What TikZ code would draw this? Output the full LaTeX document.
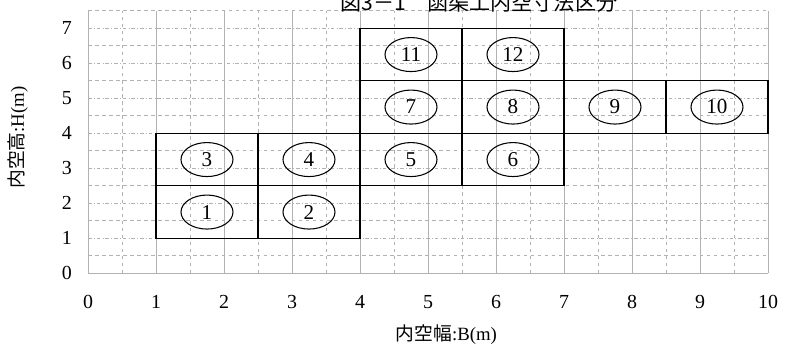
\documentclass[tikz,border=0pt]{standalone}
\usepackage{fontspec}
\setmainfont{Liberation Serif}
\newfontfamily\jpfont{Noto Sans CJK JP}
\usetikzlibrary{shapes.geometric}

\tikzset{
  gridsolid/.style={gray!60, line width=0.6pt},
  griddash/.style={gray!60, dashed, line width=0.6pt},
  griddot/.style={gray!60, dash dot, line width=0.6pt},
  area/.style={black, line width=1pt},
  num/.style={ellipse, draw, line width=0.9pt, minimum width=1.56cm, minimum height=1.02cm, inner sep=0pt, font=\fontsize{18}{20}\selectfont},
  tick/.style={font=\fontsize{17}{20}\selectfont},
  axlabel/.style={font=\fontsize{16}{18}\selectfont}
}

\begin{document}
\begin{tikzpicture}[x=2.04cm, y=1.05cm]
\useasboundingbox (-1.294,-2.049) rectangle (10.353,7.809);
% grid
\foreach \i in {0,...,10}
  \draw[gridsolid] (\i,0) -- (\i,7.5);
\foreach \i in {0.5,1.5,...,9.5}
  \draw[griddash] (\i,0) -- (\i,7.5);
\foreach \j in {1,...,7}
  \draw[griddot] (0,\j) -- (10,\j);
\foreach \j in {0.5,1.5,...,7.5}
  \draw[griddash] (0,\j) -- (10,\j);
\draw[gridsolid] (0,0) -- (10,0);
% ticks
\foreach \i in {0,...,10}
  \node[tick] (xt\i) at (\i,-0.81) {\i};
\foreach \j in {0,...,7}
  \node[tick] (yt\j) at (-0.31,\j) {\j};
% areas
\foreach \x/\y/\n in {1/1/1, 2.5/1/2, 1/2.5/3, 2.5/2.5/4, 4/2.5/5, 5.5/2.5/6,
    4/4/7, 5.5/4/8, 7/4/9, 8.5/4/10, 4/5.5/11, 5.5/5.5/12}
{
  \draw[area] (\x,\y) rectangle ++(1.5,1.5);
  \node[num] (e\n) at (\x+0.75,\y+0.75) {\n};
}
% labels
\node[axlabel] (xlab) at (5.27,-1.76) {{\jpfont 内空幅}:B(m)};
\node[axlabel, rotate=90] (ylab) at (-1.03,3.88) {{\jpfont 内空高}:H(m)};
\node[anchor=base, font=\jpfont\fontsize{18}{20}\selectfont] (title) at (5.75,7.52) {図3－1　函渠工内空寸法区分};
\end{tikzpicture}
\end{document}
